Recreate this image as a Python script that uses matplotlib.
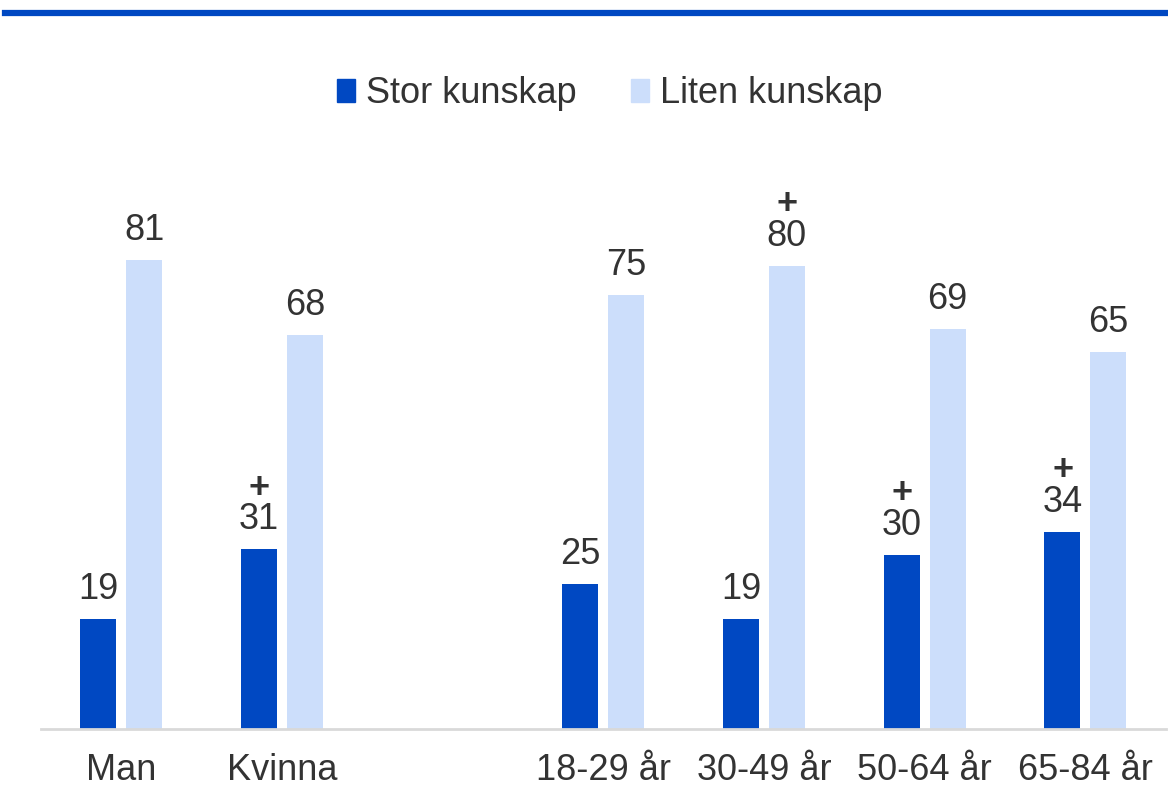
import numpy as np
import matplotlib.pyplot as plt
from matplotlib.lines import Line2D
from matplotlib.patches import Patch

plt.rcParams['font.family'] = ['Liberation Sans', 'DejaVu Sans']
plt.rcParams['mathtext.fontset'] = 'custom'
plt.rcParams['mathtext.rm'] = 'Liberation Sans'
plt.rcParams['mathtext.bf'] = 'Liberation Sans:bold'

# Data
categories = ['Man', 'Kvinna', '', '18-29 år', '30-49 år', '50-64 år', '65-84 år']
stor = [19, 31, None, 25, 19, 30, 34]
liten = [81, 68, None, 75, 80, 69, 65]
stor_plus = [False, True, False, False, False, True, True]
liten_plus = [False, False, False, False, True, False, False]

c_dark = '#0048C2'
c_light = '#CCDEFB'
txt = '#333333'

fig = plt.figure(figsize=(11.68, 7.88), dpi=100)
ax = fig.add_axes([0.035, 0.075, 0.963, 0.735])

x = np.arange(len(categories))
w = 0.224
off = 0.143

for i in range(len(categories)):
    if stor[i] is None:
        continue
    for val, plus, dx, col in [(stor[i], stor_plus[i], -off, c_dark),
                               (liten[i], liten_plus[i], off, c_light)]:
        ax.bar(x[i] + dx, val, width=w, color=col, zorder=2)
        label = str(val)
        if plus:
            # tecknet + ovanför värdet (signifikant skillnad)
            label = r'$\mathbf{+}$' + '\n' + label
        ax.annotate(label, (x[i] + dx, val), xytext=(0, 14.4), textcoords='offset points',
                    ha='center', va='baseline', fontsize=26, color=txt,
                    linespacing=0.95, multialignment='center')

ax.set_xlim(-0.5, len(categories) - 0.5)
ax.set_ylim(0, 100)
ax.set_xticks(x)
ax.set_xticklabels(categories, fontsize=26, color=txt)
ax.tick_params(axis='x', length=0, pad=17)
ax.set_yticks([])
for s in ['top', 'right', 'left']:
    ax.spines[s].set_visible(False)
ax.spines['bottom'].set_color('#D9D9D9')
ax.spines['bottom'].set_linewidth(2)

handles = [Patch(color=c_dark, label='Stor kunskap'), Patch(color=c_light, label='Liten kunskap')]
fig.legend(handles=handles, loc='center', bbox_to_anchor=(0.522, 0.881), ncol=2, frameon=False,
           fontsize=26, handlelength=0.5, handleheight=0.6, handletextpad=0.3,
           columnspacing=1.5, labelcolor=txt)

fig.add_artist(Line2D([5 / 1168, 1], [1 - 13 / 788, 1 - 13 / 788], color=c_dark, lw=4.5))

fig.savefig('out.png', dpi=100)
